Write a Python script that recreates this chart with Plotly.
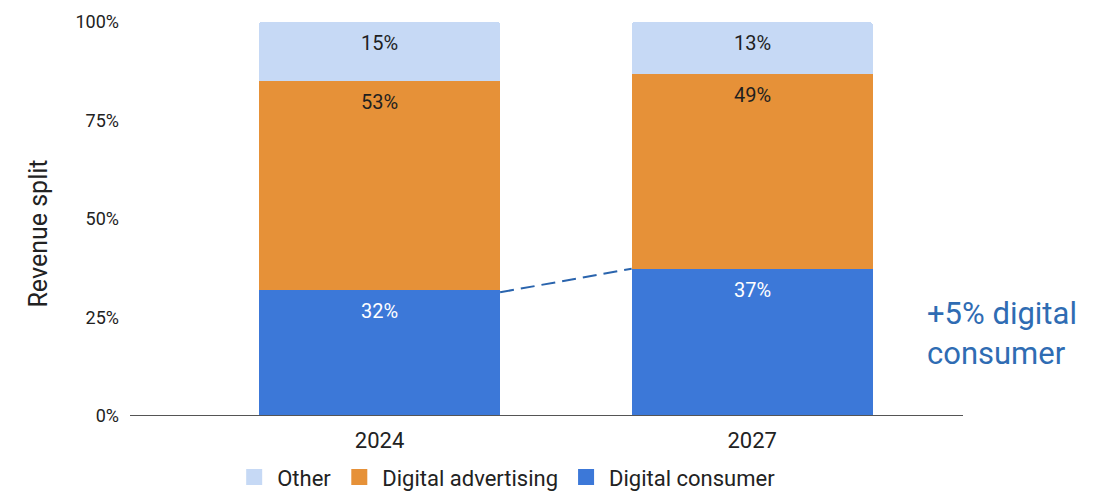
import plotly.graph_objects as go

# Revenue split by year (percent of total)
years = ["2024", "2027"]
digital_consumer = [32, 37]
digital_advertising = [53, 49]
other = [15, 13]

series = [
    ("Digital consumer", digital_consumer, "#3c78d8", "white"),
    ("Digital advertising", digital_advertising, "#e69138", "#1f1f1f"),
    ("Other", other, "#c6d9f5", "#1f1f1f"),
]

xpos = list(range(len(years)))
bar_width = 0.647

# Normalised shares, as plotted with barnorm="percent"
totals = [sum(s[1][i] for s in series) for i in xpos]

fig = go.Figure()
for name, vals, color, _ in series:
    fig.add_trace(go.Bar(
        x=xpos, y=vals, name=name, width=bar_width,
        marker=dict(color=color, line=dict(width=0)),
        legendgroup=name, showlegend=False, hoverinfo="skip",
    ))
    # Legend entry with a larger square swatch
    fig.add_trace(go.Scatter(
        x=[None], y=[None], mode="markers", name=name, legendgroup=name,
        marker=dict(symbol="square", size=19, color=color),
    ))

# Value labels near the top of each segment
for i in xpos:
    cum = 0.0
    for name, vals, color, tcolor in series:
        cum += vals[i] / totals[i] * 100
        fig.add_annotation(
            x=i, y=cum, text=f"{vals[i]}%", showarrow=False,
            yanchor="middle", yshift=-21,
            font=dict(size=20, color=tcolor, family="Roboto"),
        )

# Dashed connector between the digital consumer tops
dc_tops = [digital_consumer[i] / totals[i] * 100 for i in xpos]
fig.add_trace(go.Scatter(
    x=[xpos[0] + bar_width / 2, xpos[1] - bar_width / 2],
    y=[dc_tops[0] - 0.6, dc_tops[1]],
    mode="lines", line=dict(color="#2a64ad", width=2, dash="14px,7px"),
    showlegend=False, hoverinfo="skip",
))

fig.add_annotation(
    xref="paper", yref="paper", x=0.954, y=0.21, xanchor="left", yanchor="middle",
    text="+5% digital<br>consumer", align="left", showarrow=False,
    font=dict(size=31, color="#2f6cb3", family="Roboto"),
)

# Y-axis title
fig.add_annotation(
    xref="paper", yref="paper", x=-0.11, y=0.464, xanchor="center", yanchor="middle",
    text="Revenue split", textangle=-90, showarrow=False,
    font=dict(size=25, color="#222222", family="Roboto"),
)

fig.update_layout(
    width=1105, height=491,
    margin=dict(l=130, r=142, t=22, b=75, autoexpand=False),
    barmode="stack", barnorm="percent",
    plot_bgcolor="white", paper_bgcolor="white",
    font=dict(family="Roboto", color="#222222"),
    showlegend=True,
    legend=dict(
        orientation="h", traceorder="reversed",
        x=0.451, xanchor="center", yref="container", y=0.028, yanchor="middle",
        font=dict(size=22, color="#222222"),
        itemwidth=36,
    ),
    xaxis=dict(
        tickvals=xpos, ticktext=years, range=[-0.67, 1.566],
        showgrid=False, zeroline=False, showline=False, ticks="",
        ticklabelstandoff=9,
        tickfont=dict(size=22, color="#222222"),
    ),
    yaxis=dict(
        range=[0, 100], tickvals=[0, 25, 50, 75, 100],
        ticktext=["0%", "25%", "50%", "75%", "100%"],
        showgrid=False, zeroline=False, showline=False,
        ticks="", ticklabelstandoff=10,
        tickfont=dict(size=18, color="#222222"),
    ),
    barcornerradius=3,
)

# Baseline along the bottom of the plot
fig.add_shape(type="line", xref="paper", yref="y", x0=0, x1=1, y0=0, y1=0,
              line=dict(color="#555555", width=2), layer="above")

fig.write_html("out.html")
